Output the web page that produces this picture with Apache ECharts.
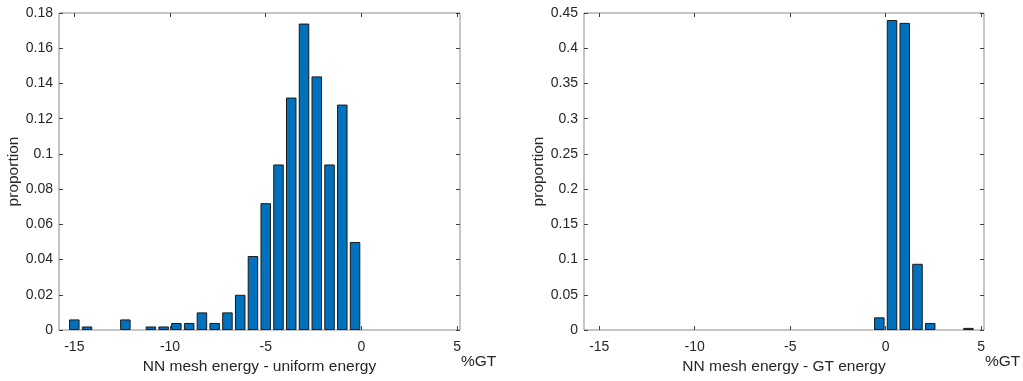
<!DOCTYPE html>
<html>
<head>
<meta charset="utf-8">
<script src="https://cdn.jsdelivr.net/npm/echarts@6/dist/echarts.min.js"></script>
<style>
  html, body { margin: 0; padding: 0; background: #ffffff; }
  #chart { width: 1023px; height: 381px; }
</style>
</head>
<body>
<div id="chart"></div>
<script>
// bin centres (bins are 2/3 %GT wide)
const leftCenters = [-15, -14.333, -13.667, -13, -12.333, -11.667, -11, -10.333, -9.667, -9, -8.333, -7.667,
  -7, -6.333, -5.667, -5, -4.333, -3.667, -3, -2.333, -1.667, -1, -0.333];
const leftValues = [0.006, 0.002, 0, 0, 0.006, 0, 0.002, 0.002, 0.004, 0.004, 0.010, 0.004,
  0.010, 0.020, 0.042, 0.072, 0.094, 0.132, 0.174, 0.144, 0.094, 0.128, 0.050];

const rightCenters = [-0.333, 0.333, 1, 1.667, 2.333, 3, 3.667, 4.333];
const rightValues = [0.018, 0.440, 0.436, 0.094, 0.010, 0, 0, 0.003];

const xTicks = [-15, -10, -5, 0, 5];
const leftLabel = "NN mesh energy - uniform energy";
const rightLabel = "NN mesh energy - GT energy";
const yLabel = "proportion";
const unitLabel = "%GT";

const textColor = "#262626";
const boxColor = "#8c8c8c";
const tickColor = "#404040";
const font = "Liberation Sans, Arial, sans-serif";

const chart = echarts.init(document.getElementById("chart"));

const grids = [
  { left: 59, top: 13, width: 401, height: 317 },
  { left: 584, top: 13, width: 400, height: 317 },
];

function pairs(xs, ys) {
  return xs.map((x, i) => [x, ys[i]]).filter((d) => d[1] > 0);
}

function xAxisFor(gridIndex, name, top) {
  return {
    type: "value",
    gridIndex: gridIndex,
    position: top ? "top" : "bottom",
    min: -15.8,
    max: 5.15,
    name: top ? "" : name,
    nameLocation: "middle",
    nameGap: 28,
    nameTextStyle: { color: textColor, fontSize: 15.5, fontFamily: font },
    axisLine: { show: false, onZero: false },
    splitLine: { show: false },
    axisTick: {
      show: true, inside: true, length: 4,
      lineStyle: { color: tickColor },
      customValues: xTicks,
    },
    axisLabel: {
      show: !top, color: textColor, fontSize: 14, fontFamily: font, margin: 10,
      customValues: xTicks,
    },
  };
}

function yAxisFor(gridIndex, max, interval, right) {
  return {
    type: "value",
    gridIndex: gridIndex,
    position: right ? "right" : "left",
    min: 0,
    max: max,
    interval: interval,
    name: right ? "" : yLabel,
    nameLocation: "middle",
    nameRotate: 90,
    nameGap: 36,
    nameTextStyle: { color: textColor, fontSize: 15.5, fontFamily: font },
    axisLine: { show: false, onZero: false },
    splitLine: { show: false },
    axisTick: { show: true, inside: true, length: 4, lineStyle: { color: tickColor } },
    axisLabel: { show: !right, color: textColor, fontSize: 14, fontFamily: font, margin: 6 },
  };
}

const barStyle = { color: "#0072BD", borderColor: "#1a1a1a", borderWidth: 1 };

chart.setOption({
  backgroundColor: "#ffffff",
  animation: false,
  grid: grids.map((g) => Object.assign({ show: true, borderColor: boxColor, borderWidth: 1 }, g)),
  xAxis: [
    xAxisFor(0, leftLabel, false),
    xAxisFor(0, leftLabel, true),
    xAxisFor(1, rightLabel, false),
    xAxisFor(1, rightLabel, true),
  ],
  yAxis: [
    yAxisFor(0, 0.18, 0.02, false),
    yAxisFor(0, 0.18, 0.02, true),
    yAxisFor(1, 0.45, 0.05, false),
    yAxisFor(1, 0.45, 0.05, true),
  ],
  series: [
    {
      type: "bar", xAxisIndex: 0, yAxisIndex: 0, barWidth: 10.5,
      itemStyle: barStyle, data: pairs(leftCenters, leftValues),
    },
    {
      type: "bar", xAxisIndex: 2, yAxisIndex: 2, barWidth: 10.5,
      itemStyle: barStyle, data: pairs(rightCenters, rightValues),
    },
  ],
  graphic: [
    {
      type: "text", left: 461, top: 354,
      style: { text: unitLabel, fill: textColor, font: "15.5px " + font },
    },
    {
      type: "text", left: 985, top: 354,
      style: { text: unitLabel, fill: textColor, font: "15.5px " + font },
    },
  ],
});

window.addEventListener("resize", () => chart.resize());
</script>
</body>
</html>
